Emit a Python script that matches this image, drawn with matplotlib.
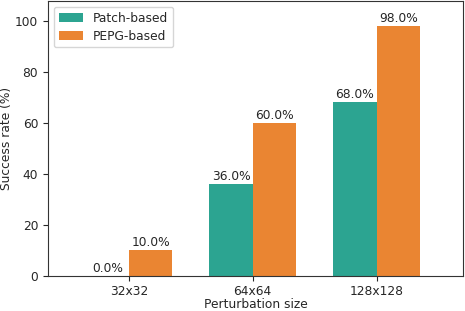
import numpy as np
import matplotlib.pyplot as plt

sizes = ["32x32", "64x64", "128x128"]
patch_based = [0.0, 36.0, 68.0]
pepg_based = [10.0, 60.0, 98.0]

teal = "#2ca491"
orange = "#ea8532"
text_col = "#262626"

plt.rcParams['font.size'] = 8.8
plt.rcParams['text.color'] = text_col
plt.rcParams['axes.labelcolor'] = text_col
plt.rcParams['xtick.color'] = text_col
plt.rcParams['ytick.color'] = text_col
plt.rcParams['axes.edgecolor'] = "#333333"

fig = plt.figure(figsize=(4.65, 3.11), dpi=100)
ax = fig.add_axes([0.103, 0.114, 0.893, 0.884])

x = np.arange(len(sizes))
w = 0.35
b1 = ax.bar(x - w / 2, patch_based, w, color=teal, label="Patch-based")
b2 = ax.bar(x + w / 2, pepg_based, w, color=orange, label="PEPG-based")

for bars in (b1, b2):
    for rect in bars:
        h = rect.get_height()
        ax.text(rect.get_x() + rect.get_width() / 2, h + 0.3, "%.1f%%" % h,
                ha="center", va="bottom")

ax.set_xticks(x)
ax.set_xticklabels(sizes)
ax.set_xlim(-0.655, 2.7)
ax.set_ylim(0, 98 * 1.1)
ax.set_xlabel("Perturbation size", labelpad=-0.5)
ax.set_ylabel("Success rate (%)", labelpad=1.5)
ax.legend(loc="upper left", handlelength=2.0, handleheight=0.8, labelspacing=0.4)

fig.savefig("out.png", dpi=100)
